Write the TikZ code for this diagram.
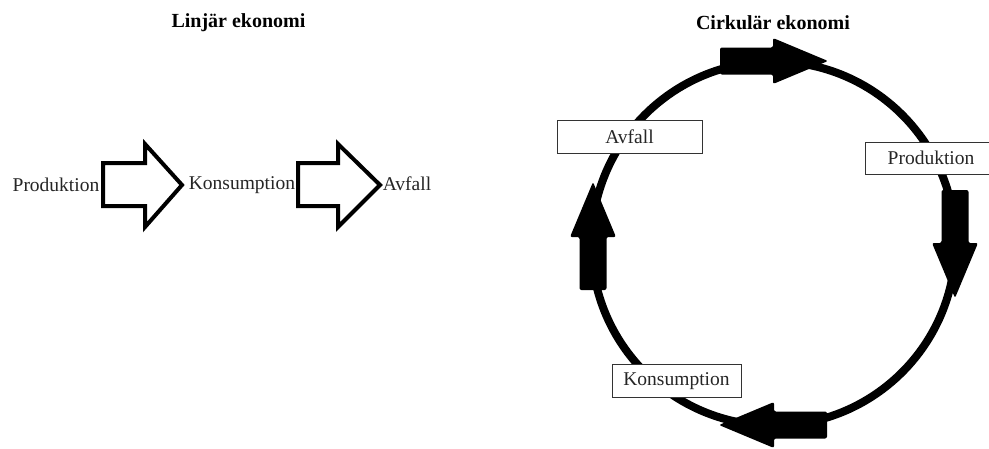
\documentclass[tikz,border=0pt]{standalone}
\usepackage{fontspec}
\setmainfont{Liberation Serif}
\begin{document}
\begin{tikzpicture}[x=1pt,y=-1pt,
  body/.style={font=\fontsize{19.5}{23}\selectfont, inner sep=0pt, text=black!85},
  title/.style={font=\fontsize{20}{24}\selectfont\bfseries, inner sep=0pt},
  lbox/.style={body, draw=black!80, line width=1pt, fill=white, minimum height=33pt},
  outarrow/.style={draw=black, line width=4pt, line join=miter, fill=white},
  ring/.style={draw=black, line width=8pt},
  carrow/.pic={\fill[black, rounded corners=2pt] (0,-13.5) -- (53,-13.5) -- (53,-23) -- (108,0) -- (53,23) -- (53,13.5) -- (0,13.5) -- cycle;}
]
\useasboundingbox (0,0) rectangle (989,448);
\clip (0,0) rectangle (989,448);
\fill[white] (0,0) rectangle (989,448);

% titles
\node[title] (tlin) at (238.5,23) {Linjär ekonomi};
\node[title] (tcirc) at (773,23) {Cirkulär ekonomi};

% linear economy
\node[body] (p1) at (56,185) {Produktion};
\node[body] (k1) at (242,185) {Konsumption};
\node[body] (a1) at (407,184) {Avfall};
\draw[outarrow] (103,163) -- (145,163) -- (145,144) -- (182,185) -- (145,227) -- (145,206) -- (103,206) -- cycle;
\draw[outarrow] (298,163) -- (338,163) -- (338,144) -- (380,185) -- (338,227) -- (338,206) -- (298,206) -- cycle;

% circular economy
\coordinate (c) at (773.5,243.5);
\draw[ring] (c) circle[radius=182];
\pic at (720,61) {carrow};
\pic[rotate=-90] at (955,190) {carrow};
\pic[rotate=180] at (827,425) {carrow};
\pic[rotate=90] at (593,290) {carrow};

\node[lbox, minimum width=145pt] (a2) at (629.5,137) {Avfall};
\node[lbox, minimum width=132pt, minimum height=32pt] (p2) at (931,158) {Produktion};
\node[lbox, minimum width=129pt] (k2) at (676.5,381) {Konsumption};
\end{tikzpicture}
\end{document}
